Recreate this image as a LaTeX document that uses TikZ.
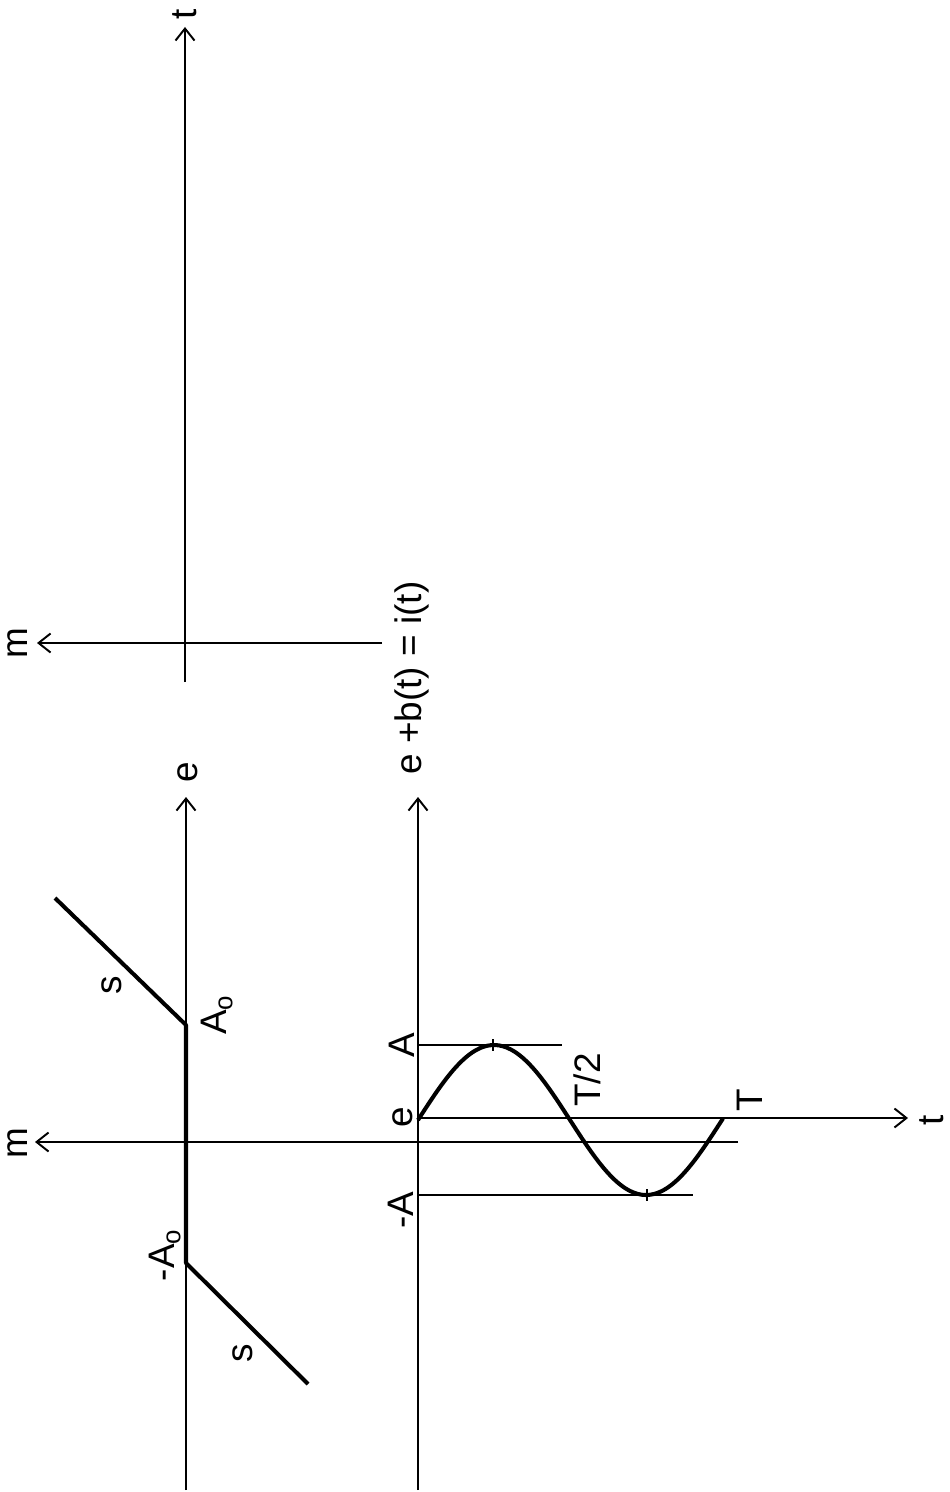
\documentclass[tikz,border=0pt]{standalone}
\usepackage{fontspec}
\setmainfont{Liberation Sans}
\usetikzlibrary{arrows.meta,calc}
\tikzset{
  axis/.style={line width=1.1pt,-{Straight Barb[length=2.4mm,width=3.8mm]}},
  plain/.style={line width=1.1pt},
  graph/.style={line width=2.3pt,line join=round},
  guide/.style={line width=0.7pt},
  lab/.style={rotate=90,inner sep=0pt,font=\fontsize{21}{24}\selectfont},
}
\begin{document}
\begin{tikzpicture}[x=0.2mm,y=-0.2mm]
  \useasboundingbox (0,0) rectangle (949,1492);
  % upper panel: m(t)
  \coordinate (mA) at (382,643);  \coordinate (mAtip) at (37,643);
  \coordinate (tA) at (185,682);  \coordinate (tAtip) at (185,27);
  \coordinate (oA) at (185,643);
  \draw[axis] (mA) -- (mAtip);
  \draw[axis] (tA) -- (tAtip);
  \draw[line width=1.7pt] (oA) -- (185,42);
  \node[lab] (mAlab) at (18,643) {m};
  \node[lab] (tAlab) at (185,14) {t};
  % left panel: characteristic m(e)
  \coordinate (eB) at (186,1490); \coordinate (eBtip) at (186,797);
  \coordinate (mB) at (738,1142); \coordinate (mBtip) at (35,1142);
  \draw[axis] (eB) -- (eBtip);
  \draw[axis] (mB) -- (mBtip);
  \coordinate (pA0) at (186,1025); \coordinate (nA0) at (186,1263);
  \draw[graph] (55,898) -- (pA0) -- (nA0) -- (308,1384);
  \node[lab] (eBlab) at (188,772) {e};
  \node[lab] (mBlab) at (18,1143) {m};
  \node[lab] (sup) at (112,985) {s};
  \node[lab] (slo) at (243,1353) {s};
  \node[lab] (pA0lab) at (217,1015) {A\textsubscript{o}};
  \node[lab] (nA0lab) at (165,1255) {-A\textsubscript{o}};
  % lower panel: i(t)
  \coordinate (iC) at (418,1490); \coordinate (iCtip) at (418,797);
  \coordinate (tC) at (418,1118); \coordinate (tCtip) at (908,1118);
  \draw[axis] (iC) -- (iCtip);
  \draw[axis] (tC) -- (tCtip);
  \draw[graph] plot[domain=0:305,samples=80,smooth] ({418+\x},{1120-75*sin(\x/304*360)});
  \coordinate (pk) at (493,1045); \coordinate (tr) at (647,1195);
  \draw[guide] (418,1045) -- (562,1045);
  \draw[guide] (418,1195) -- (693,1195);
  \foreach \c in {pk,tr}{\draw[guide] ($(\c)+(0,-6)$) -- ($(\c)+(0,6)$);}
  \node[lab] (iClab) at (412,678) {e +b(t) = i(t)};
  \node[lab] (tClab) at (932,1120) {t};
  \node[lab] (Alab) at (402,1045) {A};
  \node[lab] (elab) at (403,1117) {e};
  \node[lab] (nAlab) at (401,1210) {-A};
  \node[lab] (hTlab) at (587,1080) {T/2};
  \node[lab] (Tlab) at (750,1100) {T};
\end{tikzpicture}
\end{document}
